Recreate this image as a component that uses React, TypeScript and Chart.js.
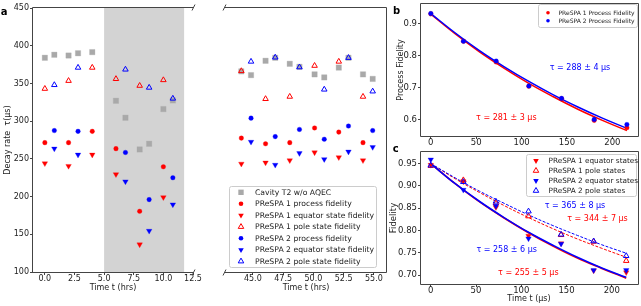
import React, { useEffect, useRef } from 'react';
import { Chart, registerables } from 'chart.js';
Chart.register(...registerables);

const W = 641, H = 306;
const FONT = 'DejaVu Sans';
const RED = '#ff0000', BLUE = '#0000ff', GRAY = '#a9a9a9', AX = '#444444', TXT = '#222222';

// ---------- Panel a (hours, decay rate in us) ----------
const earlyHrsP1 = [0, 2, 4, 6, 8, 10];
const earlyHrsP2 = [0.8, 2.8, 6.8, 8.8, 10.8];
const earlyHrsCav = [0, 0.8, 2, 2.8, 4, 6, 6.8, 8, 8.8, 10, 10.8];
const earlyCav = [384, 388, 387, 390, 391.5, 327, 304.5, 262.5, 270, 316, 327.5];
const earlyP1Proc = [271.5, 271.5, 286.5, 263.5, 180.5, 239.5];
const earlyP1Eq = [244, 240.5, 255.5, 229.5, 136.5, 199];
const earlyP1Pole = [343, 353.5, 371, 356, 347, 354.5];
const earlyP2Proc = [287.5, 286.5, 258.5, 196, 225];
const earlyP2Eq = [263.5, 255.5, 220, 154.5, 189.5];
const earlyP2Pole = [348, 371, 368.5, 344.5, 330];

const lateHrsP1 = [44.05, 46.05, 48.05, 50.1, 52.1, 54.1];
const lateHrsP2 = [44.85, 46.85, 48.85, 50.9, 52.9, 54.9];
const lateHrsCav = [44.05, 44.85, 46.05, 46.85, 48.05, 48.85, 50.1, 50.9, 52.1, 52.9, 54.1, 54.9];
const lateCav = [366, 361, 380, 384, 376, 372, 362, 358, 371, 384, 362, 356];
const lateP1Proc = [277.5, 270, 271.5, 291, 285.5, 271.5];
const lateP1Eq = [243.5, 245, 248, 258.5, 252, 248];
const lateP1Pole = [366.5, 329.5, 332.5, 373.5, 379, 332.5];
const lateP2Proc = [304, 279.5, 289, 276, 293.5, 287.5];
const lateP2Eq = [272.5, 242, 257.5, 249.5, 259.5, 265.5];
const lateP2Pole = [379, 384.5, 371.5, 342, 384, 339.5];

const shadeHrs = [5, 11.75];
const earlyXTicks = [0, 2.5, 5, 7.5, 10, 12.5];
const lateXTicks = [45, 47.5, 50, 52.5, 55];
const rateTicks = [100, 150, 200, 250, 300, 350, 400, 450];

// ---------- Panels b, c (delay in us) ----------
const delays = [0, 36, 72, 108, 144, 180, 216];
const fitDelays = [0, 27, 54, 81, 108, 135, 162, 189, 216];
const procP1 = [0.931, 0.845, 0.780, 0.704, 0.665, 0.597, 0.574];
const procP2 = [0.932, 0.845, 0.783, 0.705, 0.666, 0.600, 0.584];
const procFitP1 = [0.930, 0.868, 0.811, 0.760, 0.713, 0.671, 0.632, 0.597, 0.565];
const procFitP2 = [0.932, 0.871, 0.815, 0.765, 0.719, 0.677, 0.639, 0.604, 0.572];

const eqP1 = [0.947, 0.910, 0.852, 0.788, 0.771, 0.710, 0.706];
const poleP1 = [0.945, 0.913, 0.861, 0.832, 0.790, 0.775, 0.732];
const eqP2 = [0.959, 0.891, 0.855, 0.782, 0.770, 0.711, 0.711];
const poleP2 = [0.946, 0.909, 0.865, 0.843, 0.791, 0.776, 0.743];
const eqFitP1 = [0.950, 0.905, 0.864, 0.828, 0.795, 0.765, 0.738, 0.715, 0.693];
const eqFitP2 = [0.950, 0.905, 0.865, 0.829, 0.796, 0.767, 0.740, 0.716, 0.695];
const poleFitP1 = [0.950, 0.916, 0.885, 0.856, 0.829, 0.804, 0.781, 0.760, 0.740];
const poleFitP2 = [0.950, 0.918, 0.888, 0.861, 0.835, 0.811, 0.789, 0.768, 0.749];

const delayTicks = [0, 50, 100, 150, 200];
const procTicks = [0.6, 0.7, 0.8, 0.9];
const stateTicks = [0.70, 0.75, 0.80, 0.85, 0.90, 0.95];

const legendA = [
  'Cavity T2 w/o AQEC', 'PReSPA 1 process fidelity', 'PReSPA 1 equator state fidelity',
  'PReSPA 1 pole state fidelity', 'PReSPA 2 process fidelity', 'PReSPA 2 equator state fidelity',
  'PReSPA 2 pole state fidelity',
];
const legendB = ['PReSPA 1 Process Fidelity', 'PReSPA 2 Process Fidelity'];
const legendC = ['PReSPA 1 equator states', 'PReSPA 1 pole states', 'PReSPA 2 equator states', 'PReSPA 2 pole states'];

// ---------- helpers ----------
const pts = (xs: number[], ys: number[]) => xs.map((x, i) => ({ x, y: ys[i] }));

type Mk = { style: string; color: string; filled: boolean; r: number };
const MA: Record<string, Mk> = {
  sq: { style: 'square', color: GRAY, filled: true, r: 3.8 },
  c1: { style: 'circle', color: RED, filled: true, r: 2.3 },
  d1: { style: 'down', color: RED, filled: true, r: 3.2 },
  u1: { style: 'up', color: RED, filled: false, r: 3.2 },
  c2: { style: 'circle', color: BLUE, filled: true, r: 2.3 },
  d2: { style: 'down', color: BLUE, filled: true, r: 3.2 },
  u2: { style: 'up', color: BLUE, filled: false, r: 3.2 },
};

function scatterDs(data: any[], m: Mk, order: number) {
  const style = m.style === 'square' ? 'rect' : m.style === 'circle' ? 'circle' : 'triangle';
  return {
    type: 'scatter',
    data,
    order,
    pointStyle: style,
    rotation: m.style === 'down' ? 180 : 0,
    pointRadius: m.r,
    pointBackgroundColor: m.filled ? m.color : 'rgba(0,0,0,0)',
    pointBorderColor: m.color,
    pointBorderWidth: m.filled ? 0.3 : 1,
    showLine: false,
  };
}

function lineDs(data: any[], color: string, width: number, dash: number[], order: number) {
  return {
    type: 'scatter',
    data,
    order,
    showLine: true,
    borderColor: color,
    borderWidth: width,
    borderDash: dash,
    tension: 0.4,
    pointRadius: 0,
    fill: false,
  };
}

function drawMarker(ctx: CanvasRenderingContext2D, m: Mk, x: number, y: number) {
  const r = m.r;
  ctx.save();
  ctx.beginPath();
  if (m.style === 'circle') ctx.arc(x, y, r, 0, Math.PI * 2);
  else if (m.style === 'square') { const s = r * Math.SQRT1_2; ctx.rect(x - s, y - s, 2 * s, 2 * s); }
  else if (m.style === 'down') { ctx.moveTo(x - r * 0.866, y - r * 0.5); ctx.lineTo(x + r * 0.866, y - r * 0.5); ctx.lineTo(x, y + r); ctx.closePath(); }
  else { ctx.moveTo(x - r * 0.866, y + r * 0.5); ctx.lineTo(x + r * 0.866, y + r * 0.5); ctx.lineTo(x, y - r); ctx.closePath(); }
  if (m.filled) { ctx.fillStyle = m.color; ctx.fill(); }
  else { ctx.strokeStyle = m.color; ctx.lineWidth = 1; ctx.stroke(); }
  ctx.restore();
}

function drawLegend(ctx: CanvasRenderingContext2D, box: number[], labels: string[], marks: Mk[], rows: number[], mx: number, tx: number, fs: number) {
  const [x0, y0, x1, y1] = box;
  ctx.save();
  ctx.beginPath();
  const rr = 2;
  ctx.moveTo(x0 + rr, y0); ctx.lineTo(x1 - rr, y0); ctx.quadraticCurveTo(x1, y0, x1, y0 + rr);
  ctx.lineTo(x1, y1 - rr); ctx.quadraticCurveTo(x1, y1, x1 - rr, y1);
  ctx.lineTo(x0 + rr, y1); ctx.quadraticCurveTo(x0, y1, x0, y1 - rr);
  ctx.lineTo(x0, y0 + rr); ctx.quadraticCurveTo(x0, y0, x0 + rr, y0);
  ctx.closePath();
  ctx.fillStyle = 'rgba(255,255,255,0.85)';
  ctx.fill();
  ctx.strokeStyle = '#cccccc';
  ctx.lineWidth = 1;
  ctx.stroke();
  ctx.restore();
  labels.forEach((lab, i) => {
    drawMarker(ctx, marks[i], mx, rows[i]);
    ctx.save();
    ctx.font = `${fs}px "${FONT}"`;
    ctx.fillStyle = TXT;
    ctx.textAlign = 'left';
    ctx.textBaseline = 'middle';
    ctx.fillText(lab, tx, rows[i] + 0.5);
    ctx.restore();
  });
}

function text(ctx: CanvasRenderingContext2D, s: string, x: number, y: number, fs: number, color = TXT, rot = 0, bold = false) {
  ctx.save();
  ctx.font = `${bold ? 'bold ' : ''}${fs}px "${FONT}"`;
  ctx.fillStyle = color;
  ctx.textAlign = 'center';
  ctx.textBaseline = 'middle';
  ctx.translate(x, y);
  if (rot) ctx.rotate(rot);
  ctx.fillText(s, 0, 0);
  ctx.restore();
}

function line(ctx: CanvasRenderingContext2D, x1: number, y1: number, x2: number, y2: number) {
  ctx.beginPath(); ctx.moveTo(x1, y1); ctx.lineTo(x2, y2); ctx.stroke();
}

type Area = { l: number; t: number; r: number; b: number };
interface Panel {
  area: Area;
  x: { min: number; max: number; ticks: number[]; dec: number };
  y: { min: number; max: number; ticks: number[]; dec: number; show: boolean };
  fs: number;
  datasets: any[];
  shade?: number[];
  spines: { l: boolean; t: boolean; r: boolean; b: boolean };
  breaks?: 'left' | 'right';
  after: (ctx: CanvasRenderingContext2D, chart: any) => void;
}

function buildConfig(p: Panel): any {
  const a = p.area;
  const yW = p.y.show ? a.l : 0;
  const tickFont = { family: FONT, size: p.fs, lineHeight: 1 };
  const grid = { display: true, drawOnChartArea: false, drawTicks: true, tickLength: 3, color: AX, tickColor: AX, lineWidth: 1 };
  const decor = {
    id: 'decor',
    beforeDatasetsDraw(chart: any) {
      if (!p.shade) return;
      const ctx = chart.ctx; const xs = chart.scales.x;
      const x0 = xs.getPixelForValue(p.shade[0]);
      const x1 = Math.min(xs.getPixelForValue(p.shade[1]), a.r);
      ctx.save(); ctx.fillStyle = '#d3d3d3';
      ctx.fillRect(x0, a.t, x1 - x0, a.b - a.t);
      ctx.restore();
    },
    afterDraw(chart: any) {
      const ctx = chart.ctx as CanvasRenderingContext2D;
      ctx.save();
      ctx.strokeStyle = AX; ctx.lineWidth = 1;
      const L = a.l - 0.5, R = a.r + 0.5, T = a.t - 0.5, B = a.b + 0.5;
      if (p.spines.l) line(ctx, L, T, L, B);
      if (p.spines.r) line(ctx, R, T, R, B);
      if (p.spines.t) line(ctx, L, T, R, T);
      if (p.spines.b) line(ctx, L, B, R, B);
      if (p.breaks) {
        const bx = p.breaks === 'right' ? R : L;
        for (const by of [T, B]) line(ctx, bx - 1.5, by + 3, bx + 1.5, by - 3);
      }
      ctx.restore();
      p.after(ctx, chart);
    },
  };
  return {
    type: 'scatter',
    data: { datasets: p.datasets },
    plugins: [decor],
    options: {
      responsive: false,
      animation: false,
      devicePixelRatio: 1,
      events: [],
      layout: { padding: { left: a.l - yW, top: a.t, right: W - a.r, bottom: 0 } },
      plugins: { legend: { display: false }, tooltip: { enabled: false } },
      scales: {
        x: {
          type: 'linear', min: p.x.min, max: p.x.max,
          afterBuildTicks: (s: any) => { s.ticks = p.x.ticks.map((v) => ({ value: v })); },
          afterFit: (s: any) => { s.height = H - a.b; },
          ticks: { autoSkip: false, maxRotation: 0, minRotation: 0, padding: 0, font: tickFont, color: TXT,
            callback: (v: any) => Number(v).toFixed(p.x.dec) },
          grid, border: { display: false },
        },
        y: {
          type: 'linear', min: p.y.min, max: p.y.max, display: p.y.show,
          afterBuildTicks: (s: any) => { s.ticks = p.y.ticks.map((v) => ({ value: v })); },
          afterFit: (s: any) => { s.width = yW; },
          ticks: { autoSkip: false, padding: 1, font: tickFont, color: TXT,
            callback: (v: any) => Number(v).toFixed(p.y.dec) },
          grid, border: { display: false },
        },
      },
    },
  };
}

const markOrder = ['sq', 'c1', 'd1', 'u1', 'c2', 'd2', 'u2'];

function aDatasets(hc: number[], cav: number[], h1: number[], p1: number[], e1: number[], q1: number[], h2: number[], p2: number[], e2: number[], q2: number[]) {
  const sets = [pts(hc, cav), pts(h1, p1), pts(h1, e1), pts(h1, q1), pts(h2, p2), pts(h2, e2), pts(h2, q2)];
  return sets.map((d, i) => scatterDs(d, MA[markOrder[i]], 20 - i));
}

const panels: Panel[] = [
  {
    area: { l: 33, t: 8, r: 193, b: 272 },
    x: { min: -1, max: 12.5, ticks: earlyXTicks, dec: 1 },
    y: { min: 100, max: 450, ticks: rateTicks, dec: 0, show: true },
    fs: 8,
    shade: shadeHrs,
    datasets: aDatasets(earlyHrsCav, earlyCav, earlyHrsP1, earlyP1Proc, earlyP1Eq, earlyP1Pole, earlyHrsP2, earlyP2Proc, earlyP2Eq, earlyP2Pole),
    spines: { l: true, t: true, r: false, b: true },
    breaks: 'right',
    after: (ctx) => {
      text(ctx, 'Time t (hrs)', 113, 288, 8);
      text(ctx, 'Decay rate  \u03c4(\u03bcs)', 8, 140, 8, TXT, -Math.PI / 2);
      text(ctx, 'a', 4, 12.5, 10, '#000', 0, true);
    },
  },
  {
    area: { l: 225, t: 8, r: 386, b: 272 },
    x: { min: 42.7, max: 56, ticks: lateXTicks, dec: 1 },
    y: { min: 100, max: 450, ticks: rateTicks, dec: 0, show: false },
    fs: 8,
    datasets: aDatasets(lateHrsCav, lateCav, lateHrsP1, lateP1Proc, lateP1Eq, lateP1Pole, lateHrsP2, lateP2Proc, lateP2Eq, lateP2Pole),
    spines: { l: false, t: true, r: true, b: true },
    breaks: 'left',
    after: (ctx) => {
      text(ctx, 'Time t (hrs)', 306, 288, 8);
      drawLegend(ctx, [229.5, 186.5, 376.5, 267.5], legendA, markOrder.map((k) => MA[k]),
        [192.3, 203.8, 215.3, 226.8, 238.3, 249.8, 261.3], 241, 255, 7.7);
    },
  },
  {
    area: { l: 421, t: 4, r: 638, b: 136 },
    x: { min: -10.8, max: 226.8, ticks: delayTicks, dec: 0 },
    y: { min: 0.548, max: 0.958, ticks: procTicks, dec: 1, show: true },
    fs: 8.5,
    datasets: [
      lineDs(pts(fitDelays, procFitP1), RED, 1.5, [], 12),
      lineDs(pts(fitDelays, procFitP2), BLUE, 1.5, [], 11),
      scatterDs(pts(delays, procP1), { style: 'circle', color: RED, filled: true, r: 2.3 }, 10),
      scatterDs(pts(delays, procP2), { style: 'circle', color: BLUE, filled: true, r: 2.3 }, 9),
    ],
    spines: { l: true, t: true, r: true, b: true },
    after: (ctx) => {
      text(ctx, 'Process Fidelity', 400.7, 70, 8, TXT, -Math.PI / 2);
      text(ctx, '\u03c4 = 288 \u00b1 4 \u03bcs', 580, 68.3, 8, BLUE);
      text(ctx, '\u03c4 = 281 \u00b1 3 \u03bcs', 506.3, 117.7, 8, RED);
      text(ctx, 'b', 396.5, 11.5, 10, '#000', 0, true);
      drawLegend(ctx, [538.5, 4.5, 637.5, 27.5], legendB,
        [{ style: 'circle', color: RED, filled: true, r: 1.8 }, { style: 'circle', color: BLUE, filled: true, r: 1.8 }],
        [12.7, 20.7], 548, 558.5, 6);
    },
  },
  {
    area: { l: 421, t: 152, r: 638, b: 284 },
    x: { min: -10.8, max: 226.8, ticks: delayTicks, dec: 0 },
    y: { min: 0.68, max: 0.976, ticks: stateTicks, dec: 2, show: true },
    fs: 8.5,
    datasets: [
      lineDs(pts(fitDelays, eqFitP1), RED, 1.6, [], 20),
      lineDs(pts(fitDelays, poleFitP1), RED, 1, [3, 1.5], 19),
      lineDs(pts(fitDelays, eqFitP2), BLUE, 1.6, [], 18),
      lineDs(pts(fitDelays, poleFitP2), BLUE, 1, [3, 1.5], 17),
      scatterDs(pts(delays, eqP1), MA.d1, 16),
      scatterDs(pts(delays, poleP1), MA.u1, 15),
      scatterDs(pts(delays, eqP2), MA.d2, 14),
      scatterDs(pts(delays, poleP2), MA.u2, 13),
    ],
    spines: { l: true, t: true, r: true, b: true },
    after: (ctx) => {
      text(ctx, 'Fidelity', 393.3, 218, 8.5, TXT, -Math.PI / 2);
      text(ctx, 'Time t (\u03bcs)', 529, 299, 8);
      text(ctx, '\u03c4 = 365 \u00b1 8 \u03bcs', 575, 205.7, 8, BLUE);
      text(ctx, '\u03c4 = 344 \u00b1 7 \u03bcs', 597.5, 219.3, 8, RED);
      text(ctx, '\u03c4 = 258 \u00b1 6 \u03bcs', 506.7, 250, 8, BLUE);
      text(ctx, '\u03c4 = 255 \u00b1 5 \u03bcs', 528.3, 273.3, 8, RED);
      text(ctx, 'c', 395.7, 149.5, 10, '#000', 0, true);
      drawLegend(ctx, [526.5, 154.5, 636.5, 196.5], legendC, [MA.d1, MA.u1, MA.d2, MA.u2],
        [160.7, 170.7, 180.7, 190.7], 536, 548.5, 7.3);
    },
  },
];

function PanelCanvas({ p }: { p: Panel }) {
  const ref = useRef<HTMLCanvasElement>(null);
  useEffect(() => {
    if (!ref.current) return;
    const chart = new Chart(ref.current, buildConfig(p));
    return () => chart.destroy();
  }, []);
  return (
    <canvas ref={ref} width={W} height={H}
      style={{ position: 'absolute', left: 0, top: 0, width: W, height: H }} />
  );
}

export default function App() {
  return (
    <div style={{ position: 'fixed', left: 0, top: 0, width: W, height: H, background: '#fff', overflow: 'hidden' }}>
      {panels.map((p, i) => <PanelCanvas key={i} p={p} />)}
    </div>
  );
}
